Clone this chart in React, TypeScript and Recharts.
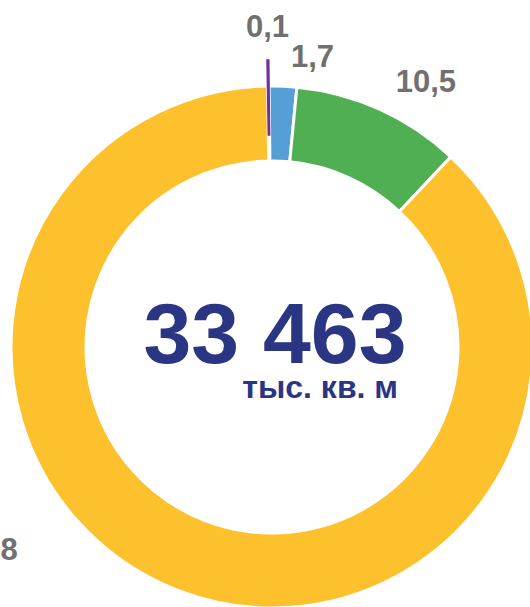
import React from 'react';
import { PieChart, Pie, Cell, Label } from 'recharts';

const categories = ['Сегмент 1', 'Сегмент 2', 'Сегмент 3', 'Сегмент 4'];
const values = [0.1, 1.7, 10.5, 87.8];
const valueLabels = ['0,1', '1,7', '10,5', '87,8'];
const totalValue = '33 463';
const totalUnit = 'тыс. кв. м';

const COLORS = ['#7030A0', '#559FD6', '#4FAF52', '#FEC12E'];
const EXPLODE = [26, 0, 0, 0];

const CX = 272;
const CY = 347;
const INNER = 186;
const OUTER = 261;
const START = 91;
const FONT = '"Liberation Sans", Arial, sans-serif';
const RAD = Math.PI / 180;

const data = categories.map((name, i) => ({ name, value: values[i], label: valueLabels[i] }));

const renderLabel = (props: any) => {
  const { cx, cy, midAngle, outerRadius, index } = props;
  let angle = midAngle;
  let r = outerRadius + EXPLODE[index] + 22;
  let anchor: 'start' | 'middle' | 'end';
  let dx = 0;
  let dy = 0;
  if (index === 3) {
    angle = 220;
    r = outerRadius + 71;
    anchor = 'end';
  } else {
    const c = Math.cos(angle * RAD);
    if (Math.abs(c) <= 0.03) {
      anchor = 'middle';
      dy = -1;
    } else if (c > 0) {
      anchor = 'start';
      dx = 7;
      dy = 3;
    } else anchor = 'end';
  }
  const x = cx + r * Math.cos(angle * RAD) + dx;
  const y = cy - r * Math.sin(angle * RAD) + dy;
  return (
    <text
      x={x}
      y={y}
      textAnchor={anchor}
      fill="#707070"
      fontFamily={FONT}
      fontWeight="bold"
      fontSize={31}
    >
      {valueLabels[index]}
    </text>
  );
};

const renderCenter = (props: any) => {
  const vb = props.viewBox || {};
  const cx = vb.cx ?? CX;
  const cy = vb.cy ?? CY;
  return (
    <g>
      <text
        x={cx + 3}
        y={cy + 16}
        textAnchor="middle"
        fill="#2A3584"
        fontFamily={FONT}
        fontWeight="bold"
        fontSize={86}
      >
        {totalValue}
      </text>
      <text
        x={cx + 126}
        y={cy + 51}
        textAnchor="end"
        fill="#2A3584"
        fontFamily={FONT}
        fontWeight="bold"
        fontSize={32}
      >
        {totalUnit}
      </text>
    </g>
  );
};

export default function App() {
  return (
    <div
      style={{
        position: 'absolute',
        left: 0,
        top: 0,
        width: 530,
        height: 607,
        overflow: 'hidden',
        background: '#fff',
      }}
    >
      <PieChart width={530} height={607} margin={{ top: 0, right: 0, bottom: 0, left: 0 }}>
        <Pie
          data={data}
          dataKey="value"
          nameKey="name"
          cx={CX}
          cy={CY}
          innerRadius={INNER}
          outerRadius={OUTER}
          startAngle={START}
          endAngle={START - 360}
          isAnimationActive={false}
          stroke="#ffffff"
          strokeWidth={3}
          label={renderLabel}
          labelLine={false}
        >
          {data.map((d, i) => (
            <Cell key={`c-${i}`} fill={i === 0 ? 'none' : COLORS[i]} />
          ))}
          <Label position="center" content={renderCenter} />
        </Pie>
        <Pie
          data={data}
          dataKey="value"
          nameKey="name"
          cx={CX}
          cy={CY}
          innerRadius={INNER + EXPLODE[0]}
          outerRadius={OUTER + EXPLODE[0]}
          startAngle={START}
          endAngle={START - 360}
          isAnimationActive={false}
          stroke="none"
        >
          {data.map((d, i) => (
            <Cell
              key={`ex-${i}`}
              fill={i === 0 ? COLORS[i] : 'none'}
              stroke={i === 0 ? COLORS[i] : 'none'}
              strokeWidth={i === 0 ? 1.5 : 0}
            />
          ))}
        </Pie>
      </PieChart>
    </div>
  );
}
